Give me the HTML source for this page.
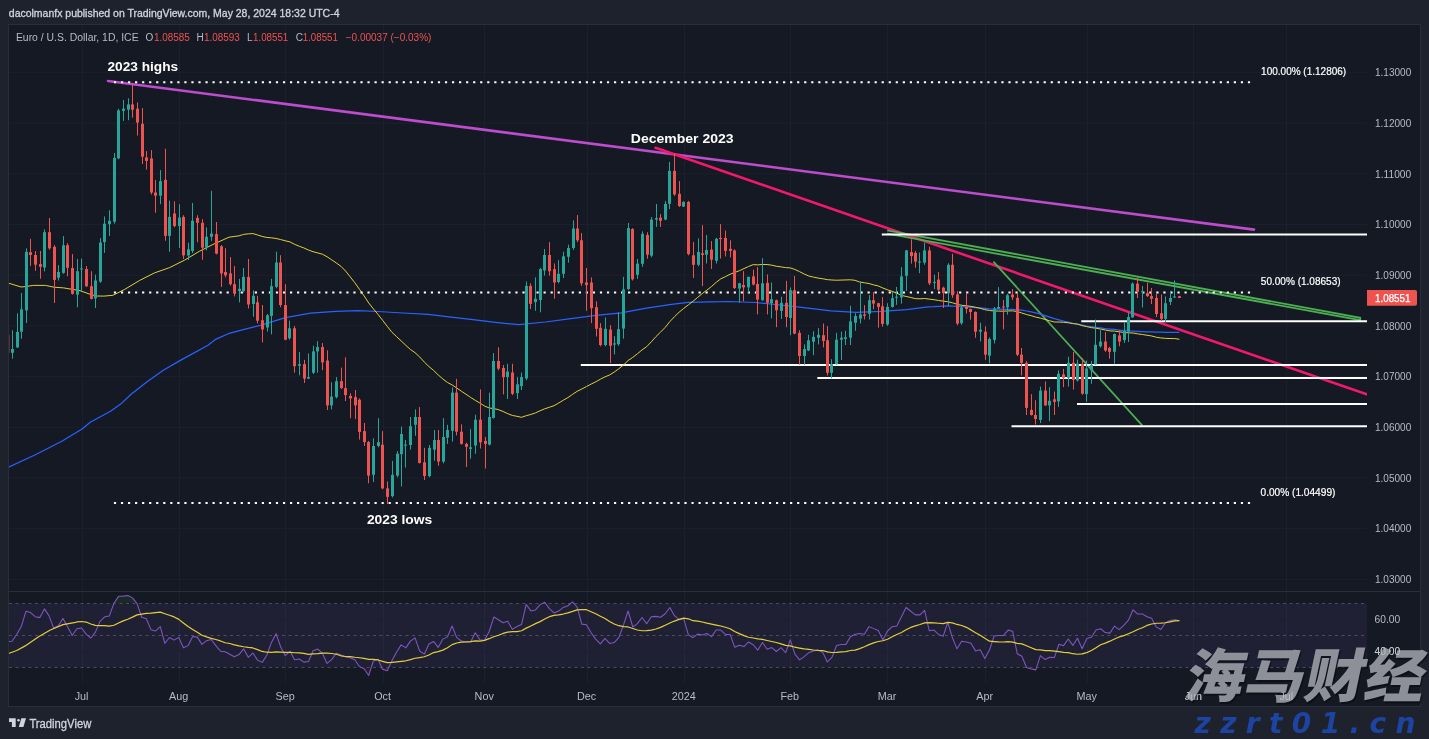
<!DOCTYPE html>
<html><head><meta charset="utf-8"><title>EUR/USD chart</title>
<style>html,body{margin:0;padding:0;background:#1e222d;overflow:hidden;}svg{display:block;}</style>
</head><body>
<svg width="1429" height="739" viewBox="0 0 1429 739"><rect x="0" y="0" width="1429" height="739" fill="#1e222d"/>
<rect x="8.5" y="24.5" width="1412" height="682" fill="#151924" stroke="#2a2e39" stroke-width="1"/>
<defs><clipPath id="cm"><rect x="9" y="25" width="1358" height="566"/></clipPath><clipPath id="cr"><rect x="9" y="592" width="1358" height="90.5"/></clipPath><clipPath id="ob"><rect x="9" y="592" width="1358" height="11"/></clipPath><clipPath id="os"><rect x="9" y="668" width="1358" height="14.5"/></clipPath></defs>
<line x1="9" y1="72.4" x2="1367" y2="72.4" stroke="#1c202c" stroke-width="1"/>
<line x1="9" y1="123.1" x2="1367" y2="123.1" stroke="#1c202c" stroke-width="1"/>
<line x1="9" y1="173.8" x2="1367" y2="173.8" stroke="#1c202c" stroke-width="1"/>
<line x1="9" y1="224.5" x2="1367" y2="224.5" stroke="#1c202c" stroke-width="1"/>
<line x1="9" y1="275.2" x2="1367" y2="275.2" stroke="#1c202c" stroke-width="1"/>
<line x1="9" y1="325.9" x2="1367" y2="325.9" stroke="#1c202c" stroke-width="1"/>
<line x1="9" y1="376.6" x2="1367" y2="376.6" stroke="#1c202c" stroke-width="1"/>
<line x1="9" y1="427.3" x2="1367" y2="427.3" stroke="#1c202c" stroke-width="1"/>
<line x1="9" y1="478" x2="1367" y2="478" stroke="#1c202c" stroke-width="1"/>
<line x1="9" y1="528.7" x2="1367" y2="528.7" stroke="#1c202c" stroke-width="1"/>
<line x1="9" y1="579.4" x2="1367" y2="579.4" stroke="#1c202c" stroke-width="1"/>
<line x1="82.5" y1="25" x2="82.5" y2="591" stroke="#1c202c" stroke-width="1"/>
<line x1="82.5" y1="592" x2="82.5" y2="682.5" stroke="#1c202c" stroke-width="1"/>
<line x1="179.5" y1="25" x2="179.5" y2="591" stroke="#1c202c" stroke-width="1"/>
<line x1="179.5" y1="592" x2="179.5" y2="682.5" stroke="#1c202c" stroke-width="1"/>
<line x1="285.5" y1="25" x2="285.5" y2="591" stroke="#1c202c" stroke-width="1"/>
<line x1="285.5" y1="592" x2="285.5" y2="682.5" stroke="#1c202c" stroke-width="1"/>
<line x1="383.5" y1="25" x2="383.5" y2="591" stroke="#1c202c" stroke-width="1"/>
<line x1="383.5" y1="592" x2="383.5" y2="682.5" stroke="#1c202c" stroke-width="1"/>
<line x1="484.5" y1="25" x2="484.5" y2="591" stroke="#1c202c" stroke-width="1"/>
<line x1="484.5" y1="592" x2="484.5" y2="682.5" stroke="#1c202c" stroke-width="1"/>
<line x1="587.5" y1="25" x2="587.5" y2="591" stroke="#1c202c" stroke-width="1"/>
<line x1="587.5" y1="592" x2="587.5" y2="682.5" stroke="#1c202c" stroke-width="1"/>
<line x1="684.5" y1="25" x2="684.5" y2="591" stroke="#1c202c" stroke-width="1"/>
<line x1="684.5" y1="592" x2="684.5" y2="682.5" stroke="#1c202c" stroke-width="1"/>
<line x1="790.5" y1="25" x2="790.5" y2="591" stroke="#1c202c" stroke-width="1"/>
<line x1="790.5" y1="592" x2="790.5" y2="682.5" stroke="#1c202c" stroke-width="1"/>
<line x1="887.5" y1="25" x2="887.5" y2="591" stroke="#1c202c" stroke-width="1"/>
<line x1="887.5" y1="592" x2="887.5" y2="682.5" stroke="#1c202c" stroke-width="1"/>
<line x1="985.5" y1="25" x2="985.5" y2="591" stroke="#1c202c" stroke-width="1"/>
<line x1="985.5" y1="592" x2="985.5" y2="682.5" stroke="#1c202c" stroke-width="1"/>
<line x1="1087.5" y1="25" x2="1087.5" y2="591" stroke="#1c202c" stroke-width="1"/>
<line x1="1087.5" y1="592" x2="1087.5" y2="682.5" stroke="#1c202c" stroke-width="1"/>
<line x1="1193.5" y1="25" x2="1193.5" y2="591" stroke="#1c202c" stroke-width="1"/>
<line x1="1193.5" y1="592" x2="1193.5" y2="682.5" stroke="#1c202c" stroke-width="1"/>
<line x1="1286.5" y1="25" x2="1286.5" y2="591" stroke="#1c202c" stroke-width="1"/>
<line x1="1286.5" y1="592" x2="1286.5" y2="682.5" stroke="#1c202c" stroke-width="1"/>
<line x1="9" y1="591.5" x2="1420" y2="591.5" stroke="#2a2e39" stroke-width="1"/>
<rect x="9" y="603.4" width="1358" height="64" fill="#7e57c2" fill-opacity="0.115"/>
<line x1="9" y1="619.5" x2="1367" y2="619.5" stroke="#1c202c" stroke-width="1"/>
<line x1="9" y1="651.5" x2="1367" y2="651.5" stroke="#1c202c" stroke-width="1"/>
<line x1="9" y1="603.5" x2="1367" y2="603.5" stroke="#787b86" stroke-opacity="0.5" stroke-width="1" stroke-dasharray="3 3.5"/>
<line x1="9" y1="635.5" x2="1367" y2="635.5" stroke="#787b86" stroke-opacity="0.5" stroke-width="1" stroke-dasharray="3 3.5"/>
<line x1="9" y1="667.5" x2="1367" y2="667.5" stroke="#787b86" stroke-opacity="0.5" stroke-width="1" stroke-dasharray="3 3.5"/>
<polygon clip-path="url(#ob)" fill="#4caf50" fill-opacity="0.12" points="4,603.4 4,642.2 12.01,641.21 16.64,634.53 21.28,626.58 25.91,611.3 30.54,612.58 35.17,616.7 39.81,617.61 44.44,608.88 49.07,615.9 53.7,628.07 58.34,625.76 62.97,618.44 67.6,626.83 72.23,635.44 76.87,628.78 81.5,628.01 86.13,634.08 90.76,638.22 95.39,632.14 100.03,621.37 104.66,616.79 109.29,616.09 113.92,603.33 118.56,596.34 123.19,596.11 127.82,595.5 132.45,597.85 137.09,603.6 141.72,617.25 146.35,618.81 150.99,629.86 155.62,630.91 160.25,626.61 164.88,643.25 169.51,637.52 174.15,640.09 178.78,637.4 183.41,647.7 188.05,645.64 192.68,636.48 197.31,637.11 201.94,644.35 206.58,640.64 211.21,639.53 215.84,645.65 220.47,651.17 225.11,651.69 229.74,654.2 234.37,656.68 239,654.59 243.63,648.84 248.27,657.27 252.9,653.08 257.53,660.11 262.17,662.36 266.8,655.27 271.43,642.43 276.06,633.67 280.7,647.04 285.33,655.63 289.96,651.37 294.59,659.84 299.23,659.06 303.86,662.14 308.49,661.49 313.12,650.78 317.75,649.04 322.39,653.32 327.02,663.41 331.65,659.68 336.29,653.31 340.92,655.09 345.55,656.92 350.18,657.81 354.82,659.74 359.45,666.43 364.08,668.76 368.71,675.46 373.35,661.03 377.98,659.26 382.61,669.18 387.24,670.74 391.88,660.8 396.51,652.22 401.14,644.9 405.77,647.86 410.41,641.14 415.04,637.91 419.67,651 424.3,654.17 428.94,644.04 433.57,641.42 438.2,647.42 442.83,639.11 447.47,636.86 452.1,625.93 456.73,637.69 461.36,640.98 466,641.8 470.63,641.92 475.26,632.81 479.89,639.84 484.53,640.33 489.16,631.47 493.79,617.07 498.42,619.72 503.06,622.77 507.69,621.28 512.32,629.34 516.95,626.55 521.59,624.43 526.22,604.48 530.85,610.92 535.48,609.94 540.12,604.61 544.75,602.27 549.38,608.59 554.01,612.9 558.65,611.05 563.28,607.42 567.91,605.74 572.54,601.95 577.18,607.28 581.81,624.12 586.44,624.76 591.07,632.72 595.71,639.16 600.34,643.87 604.97,638.36 609.6,643.44 614.24,642.56 618.87,637.39 623.5,624.95 628.13,610.98 632.77,627 637.4,623.56 642.03,617.46 646.66,623.68 651.3,616.67 655.93,616.38 660.56,617.28 665.19,613.73 669.83,607.46 674.46,615.71 679.09,619.61 683.72,618.67 688.36,634.84 692.99,637.71 697.62,634.11 702.25,634.97 706.88,633.47 711.52,636.64 716.15,629.96 720.78,630.07 725.42,634.44 730.05,634.44 734.68,647.16 739.31,645.24 743.95,646.6 748.58,641.95 753.21,644.77 757.84,650.07 762.48,642.49 767.11,649.32 771.74,647.61 776.37,651.49 781.01,647.65 785.64,652.76 790.27,639.85 794.9,654.06 799.54,659.86 804.17,656.64 808.8,652.64 813.43,651.04 818.07,650.01 822.7,652.15 827.33,661.98 831.96,657.33 836.6,645.48 841.23,644.56 845.86,644.37 850.49,636.77 855.12,634.3 859.76,633.59 864.39,634.27 869.02,626.62 873.66,628.61 878.29,630.58 882.92,640.1 887.55,630.99 892.19,626.72 896.82,626.03 901.45,616.84 906.08,607.49 910.72,611.25 915.35,614.88 919.98,614.88 924.61,610.37 929.25,630.75 933.88,630.09 938.51,634.37 943.14,636.29 947.78,622.45 952.41,637.79 957.04,648.84 961.67,641.34 966.31,641.97 970.94,643.21 975.57,650.89 980.2,649.79 984.84,658.59 989.47,650.03 994.1,636.08 998.73,635.41 1003.37,635.59 1008,630.13 1012.63,631.19 1017.26,653.83 1021.9,656.25 1026.53,667.51 1031.16,669.01 1035.79,669.87 1040.43,655.63 1045.06,659.53 1049.69,657.31 1054.32,657.6 1058.96,644.26 1063.59,645.66 1068.22,639.02 1072.85,645.36 1077.49,638.31 1082.12,648.72 1086.75,638.61 1091.38,637.32 1096.02,629.91 1100.65,628.78 1105.28,632.54 1109.91,633.11 1114.55,626.05 1119.18,629.64 1123.81,625.43 1128.44,620.2 1133.08,609.78 1137.71,614.1 1142.34,613.91 1146.97,616.7 1151.61,618.29 1156.24,626.9 1160.87,629.54 1165.5,622.63 1170.13,620.47 1174.77,619.83 1179.4,620.84 1179.4,603.4"/>
<polygon clip-path="url(#os)" fill="#f23645" fill-opacity="0.12" points="4,667.4 4,642.2 12.01,641.21 16.64,634.53 21.28,626.58 25.91,611.3 30.54,612.58 35.17,616.7 39.81,617.61 44.44,608.88 49.07,615.9 53.7,628.07 58.34,625.76 62.97,618.44 67.6,626.83 72.23,635.44 76.87,628.78 81.5,628.01 86.13,634.08 90.76,638.22 95.39,632.14 100.03,621.37 104.66,616.79 109.29,616.09 113.92,603.33 118.56,596.34 123.19,596.11 127.82,595.5 132.45,597.85 137.09,603.6 141.72,617.25 146.35,618.81 150.99,629.86 155.62,630.91 160.25,626.61 164.88,643.25 169.51,637.52 174.15,640.09 178.78,637.4 183.41,647.7 188.05,645.64 192.68,636.48 197.31,637.11 201.94,644.35 206.58,640.64 211.21,639.53 215.84,645.65 220.47,651.17 225.11,651.69 229.74,654.2 234.37,656.68 239,654.59 243.63,648.84 248.27,657.27 252.9,653.08 257.53,660.11 262.17,662.36 266.8,655.27 271.43,642.43 276.06,633.67 280.7,647.04 285.33,655.63 289.96,651.37 294.59,659.84 299.23,659.06 303.86,662.14 308.49,661.49 313.12,650.78 317.75,649.04 322.39,653.32 327.02,663.41 331.65,659.68 336.29,653.31 340.92,655.09 345.55,656.92 350.18,657.81 354.82,659.74 359.45,666.43 364.08,668.76 368.71,675.46 373.35,661.03 377.98,659.26 382.61,669.18 387.24,670.74 391.88,660.8 396.51,652.22 401.14,644.9 405.77,647.86 410.41,641.14 415.04,637.91 419.67,651 424.3,654.17 428.94,644.04 433.57,641.42 438.2,647.42 442.83,639.11 447.47,636.86 452.1,625.93 456.73,637.69 461.36,640.98 466,641.8 470.63,641.92 475.26,632.81 479.89,639.84 484.53,640.33 489.16,631.47 493.79,617.07 498.42,619.72 503.06,622.77 507.69,621.28 512.32,629.34 516.95,626.55 521.59,624.43 526.22,604.48 530.85,610.92 535.48,609.94 540.12,604.61 544.75,602.27 549.38,608.59 554.01,612.9 558.65,611.05 563.28,607.42 567.91,605.74 572.54,601.95 577.18,607.28 581.81,624.12 586.44,624.76 591.07,632.72 595.71,639.16 600.34,643.87 604.97,638.36 609.6,643.44 614.24,642.56 618.87,637.39 623.5,624.95 628.13,610.98 632.77,627 637.4,623.56 642.03,617.46 646.66,623.68 651.3,616.67 655.93,616.38 660.56,617.28 665.19,613.73 669.83,607.46 674.46,615.71 679.09,619.61 683.72,618.67 688.36,634.84 692.99,637.71 697.62,634.11 702.25,634.97 706.88,633.47 711.52,636.64 716.15,629.96 720.78,630.07 725.42,634.44 730.05,634.44 734.68,647.16 739.31,645.24 743.95,646.6 748.58,641.95 753.21,644.77 757.84,650.07 762.48,642.49 767.11,649.32 771.74,647.61 776.37,651.49 781.01,647.65 785.64,652.76 790.27,639.85 794.9,654.06 799.54,659.86 804.17,656.64 808.8,652.64 813.43,651.04 818.07,650.01 822.7,652.15 827.33,661.98 831.96,657.33 836.6,645.48 841.23,644.56 845.86,644.37 850.49,636.77 855.12,634.3 859.76,633.59 864.39,634.27 869.02,626.62 873.66,628.61 878.29,630.58 882.92,640.1 887.55,630.99 892.19,626.72 896.82,626.03 901.45,616.84 906.08,607.49 910.72,611.25 915.35,614.88 919.98,614.88 924.61,610.37 929.25,630.75 933.88,630.09 938.51,634.37 943.14,636.29 947.78,622.45 952.41,637.79 957.04,648.84 961.67,641.34 966.31,641.97 970.94,643.21 975.57,650.89 980.2,649.79 984.84,658.59 989.47,650.03 994.1,636.08 998.73,635.41 1003.37,635.59 1008,630.13 1012.63,631.19 1017.26,653.83 1021.9,656.25 1026.53,667.51 1031.16,669.01 1035.79,669.87 1040.43,655.63 1045.06,659.53 1049.69,657.31 1054.32,657.6 1058.96,644.26 1063.59,645.66 1068.22,639.02 1072.85,645.36 1077.49,638.31 1082.12,648.72 1086.75,638.61 1091.38,637.32 1096.02,629.91 1100.65,628.78 1105.28,632.54 1109.91,633.11 1114.55,626.05 1119.18,629.64 1123.81,625.43 1128.44,620.2 1133.08,609.78 1137.71,614.1 1142.34,613.91 1146.97,616.7 1151.61,618.29 1156.24,626.9 1160.87,629.54 1165.5,622.63 1170.13,620.47 1174.77,619.83 1179.4,620.84 1179.4,667.4"/>
<g clip-path="url(#cr)">
<polyline fill="none" stroke="#7e57c2" stroke-width="1.05" stroke-linejoin="round" points="4,642.2 12.01,641.21 16.64,634.53 21.28,626.58 25.91,611.3 30.54,612.58 35.17,616.7 39.81,617.61 44.44,608.88 49.07,615.9 53.7,628.07 58.34,625.76 62.97,618.44 67.6,626.83 72.23,635.44 76.87,628.78 81.5,628.01 86.13,634.08 90.76,638.22 95.39,632.14 100.03,621.37 104.66,616.79 109.29,616.09 113.92,603.33 118.56,596.34 123.19,596.11 127.82,595.5 132.45,597.85 137.09,603.6 141.72,617.25 146.35,618.81 150.99,629.86 155.62,630.91 160.25,626.61 164.88,643.25 169.51,637.52 174.15,640.09 178.78,637.4 183.41,647.7 188.05,645.64 192.68,636.48 197.31,637.11 201.94,644.35 206.58,640.64 211.21,639.53 215.84,645.65 220.47,651.17 225.11,651.69 229.74,654.2 234.37,656.68 239,654.59 243.63,648.84 248.27,657.27 252.9,653.08 257.53,660.11 262.17,662.36 266.8,655.27 271.43,642.43 276.06,633.67 280.7,647.04 285.33,655.63 289.96,651.37 294.59,659.84 299.23,659.06 303.86,662.14 308.49,661.49 313.12,650.78 317.75,649.04 322.39,653.32 327.02,663.41 331.65,659.68 336.29,653.31 340.92,655.09 345.55,656.92 350.18,657.81 354.82,659.74 359.45,666.43 364.08,668.76 368.71,675.46 373.35,661.03 377.98,659.26 382.61,669.18 387.24,670.74 391.88,660.8 396.51,652.22 401.14,644.9 405.77,647.86 410.41,641.14 415.04,637.91 419.67,651 424.3,654.17 428.94,644.04 433.57,641.42 438.2,647.42 442.83,639.11 447.47,636.86 452.1,625.93 456.73,637.69 461.36,640.98 466,641.8 470.63,641.92 475.26,632.81 479.89,639.84 484.53,640.33 489.16,631.47 493.79,617.07 498.42,619.72 503.06,622.77 507.69,621.28 512.32,629.34 516.95,626.55 521.59,624.43 526.22,604.48 530.85,610.92 535.48,609.94 540.12,604.61 544.75,602.27 549.38,608.59 554.01,612.9 558.65,611.05 563.28,607.42 567.91,605.74 572.54,601.95 577.18,607.28 581.81,624.12 586.44,624.76 591.07,632.72 595.71,639.16 600.34,643.87 604.97,638.36 609.6,643.44 614.24,642.56 618.87,637.39 623.5,624.95 628.13,610.98 632.77,627 637.4,623.56 642.03,617.46 646.66,623.68 651.3,616.67 655.93,616.38 660.56,617.28 665.19,613.73 669.83,607.46 674.46,615.71 679.09,619.61 683.72,618.67 688.36,634.84 692.99,637.71 697.62,634.11 702.25,634.97 706.88,633.47 711.52,636.64 716.15,629.96 720.78,630.07 725.42,634.44 730.05,634.44 734.68,647.16 739.31,645.24 743.95,646.6 748.58,641.95 753.21,644.77 757.84,650.07 762.48,642.49 767.11,649.32 771.74,647.61 776.37,651.49 781.01,647.65 785.64,652.76 790.27,639.85 794.9,654.06 799.54,659.86 804.17,656.64 808.8,652.64 813.43,651.04 818.07,650.01 822.7,652.15 827.33,661.98 831.96,657.33 836.6,645.48 841.23,644.56 845.86,644.37 850.49,636.77 855.12,634.3 859.76,633.59 864.39,634.27 869.02,626.62 873.66,628.61 878.29,630.58 882.92,640.1 887.55,630.99 892.19,626.72 896.82,626.03 901.45,616.84 906.08,607.49 910.72,611.25 915.35,614.88 919.98,614.88 924.61,610.37 929.25,630.75 933.88,630.09 938.51,634.37 943.14,636.29 947.78,622.45 952.41,637.79 957.04,648.84 961.67,641.34 966.31,641.97 970.94,643.21 975.57,650.89 980.2,649.79 984.84,658.59 989.47,650.03 994.1,636.08 998.73,635.41 1003.37,635.59 1008,630.13 1012.63,631.19 1017.26,653.83 1021.9,656.25 1026.53,667.51 1031.16,669.01 1035.79,669.87 1040.43,655.63 1045.06,659.53 1049.69,657.31 1054.32,657.6 1058.96,644.26 1063.59,645.66 1068.22,639.02 1072.85,645.36 1077.49,638.31 1082.12,648.72 1086.75,638.61 1091.38,637.32 1096.02,629.91 1100.65,628.78 1105.28,632.54 1109.91,633.11 1114.55,626.05 1119.18,629.64 1123.81,625.43 1128.44,620.2 1133.08,609.78 1137.71,614.1 1142.34,613.91 1146.97,616.7 1151.61,618.29 1156.24,626.9 1160.87,629.54 1165.5,622.63 1170.13,620.47 1174.77,619.83 1179.4,620.84"/>
<polyline fill="none" stroke="#e3cf3a" stroke-width="1.2" stroke-linejoin="round" points="5,654.5 9.2,653.2 16.8,650.5 25.2,645.9 38.6,636.7 50.3,630 63,624.6 75.5,622.4 76.87,621.96 81.5,621.49 86.13,622.03 90.76,623.95 95.39,625.35 100.03,625.68 104.66,625.62 109.29,626.14 113.92,625.24 118.56,622.97 123.19,620.85 127.82,619.22 132.45,617.15 137.09,614.87 141.72,614.05 146.35,613.39 150.99,613.09 155.62,612.57 160.25,612.17 164.88,613.74 169.51,615.22 174.15,616.93 178.78,619.37 183.41,623.03 188.05,626.57 192.68,629.5 197.31,632.3 201.94,635.21 206.58,636.88 211.21,638.36 215.84,639.49 220.47,640.94 225.11,642.73 229.74,643.51 234.37,644.88 239,645.92 243.63,646.73 248.27,647.42 252.9,647.95 257.53,649.63 262.17,651.44 266.8,652.22 271.43,652.35 276.06,651.93 280.7,652.03 285.33,652.35 289.96,652.32 294.59,652.73 299.23,652.9 303.86,653.44 308.49,654.34 313.12,653.88 317.75,653.59 322.39,653.1 327.02,653.18 331.65,653.49 336.29,654.27 340.92,655.8 345.55,656.51 350.18,656.66 354.82,657.26 359.45,657.73 364.08,658.42 368.71,659.38 373.35,659.34 377.98,659.95 382.61,661.39 387.24,662.63 391.88,662.44 396.51,661.91 401.14,661.31 405.77,660.79 410.41,659.67 415.04,658.24 419.67,657.62 424.3,656.74 428.94,654.98 433.57,652.55 438.2,651.57 442.83,650.13 447.47,647.83 452.1,644.63 456.73,642.98 461.36,642.17 466,641.95 470.63,641.53 475.26,640.93 479.89,641.07 484.53,640.31 489.16,638.69 493.79,636.76 498.42,635.21 503.06,633.45 507.69,632.18 512.32,631.64 516.95,631.68 521.59,630.74 526.22,628.13 530.85,625.92 535.48,623.64 540.12,621.62 544.75,618.94 549.38,616.67 554.01,615.35 558.65,614.92 563.28,614.04 567.91,612.82 572.54,611.44 577.18,609.87 581.81,609.69 586.44,609.72 591.07,611.73 595.71,613.75 600.34,616.17 604.97,618.58 609.6,621.53 614.24,623.95 618.87,625.7 623.5,626.69 628.13,626.95 632.77,628.47 637.4,630.01 642.03,630.74 646.66,630.71 651.3,630.13 655.93,628.96 660.56,627.4 665.19,625.25 669.83,623.04 674.46,621.06 679.09,619.42 683.72,618.08 688.36,618.79 692.99,620.7 697.62,621.21 702.25,622.02 706.88,623.16 711.52,624.09 716.15,625.04 720.78,626.02 725.42,627.24 730.05,628.72 734.68,631.56 739.31,633.67 743.95,635.59 748.58,637.26 753.21,637.97 757.84,638.85 762.48,639.45 767.11,640.47 771.74,641.48 776.37,642.54 781.01,643.81 785.64,645.43 790.27,645.81 794.9,647.21 799.54,648.12 804.17,648.94 808.8,649.37 813.43,650.02 818.07,650.39 822.7,650.54 827.33,651.93 831.96,652.5 836.6,652.35 841.23,651.86 845.86,651.62 850.49,650.48 855.12,650.09 859.76,648.62 864.39,646.8 869.02,644.65 873.66,642.93 878.29,641.47 882.92,640.77 887.55,639.25 892.19,636.74 896.82,634.5 901.45,632.45 906.08,629.81 910.72,627.44 915.35,625.88 919.98,624.49 924.61,622.83 929.25,622.58 933.88,622.83 938.51,623.24 943.14,623.65 947.78,622.38 952.41,622.87 957.04,624.45 961.67,625.54 966.31,627.34 970.94,629.89 975.57,632.72 980.2,635.22 984.84,638.34 989.47,641.17 994.1,641.55 998.73,641.93 1003.37,642.02 1008,641.58 1012.63,642.2 1017.26,643.35 1021.9,643.88 1026.53,645.75 1031.16,647.68 1035.79,649.58 1040.43,649.92 1045.06,650.62 1049.69,650.53 1054.32,651.07 1058.96,651.65 1063.59,652.38 1068.22,652.63 1072.85,653.72 1077.49,654.23 1082.12,653.86 1086.75,652.6 1091.38,650.44 1096.02,647.65 1100.65,644.72 1105.28,643.07 1109.91,641.18 1114.55,638.95 1119.18,636.95 1123.81,635.61 1128.44,633.79 1133.08,631.7 1137.71,629.47 1142.34,627.72 1146.97,625.44 1151.61,623.98 1156.24,623.24 1160.87,623.21 1165.5,622.77 1170.13,621.91 1174.77,620.96 1179.4,620.59"/>
</g>
<g clip-path="url(#cm)">
<line x1="108" y1="81" x2="1254" y2="229.6" stroke="#bd4dcd" stroke-width="2.6" stroke-linecap="round"/>
<line x1="655.5" y1="147.8" x2="1370" y2="395.5" stroke="#f2196b" stroke-width="2.6" stroke-linecap="round"/>
<polyline fill="none" stroke="#4caf50" stroke-width="1.8" points="887.1,230.3 1360.2,317.8 1360.2,320.1 887.1,233.7"/>
<line x1="993.4" y1="261.6" x2="1142.2" y2="425.4" stroke="#4caf50" stroke-width="1.8"/>
<line x1="881.8" y1="234.5" x2="1367" y2="234.5" stroke="#ffffff" stroke-width="2"/>
<line x1="1081.3" y1="321.3" x2="1367" y2="321.3" stroke="#ffffff" stroke-width="2"/>
<line x1="580.8" y1="365.0" x2="1367" y2="365.0" stroke="#ffffff" stroke-width="2"/>
<line x1="817.3" y1="378.1" x2="1367" y2="378.1" stroke="#ffffff" stroke-width="2"/>
<line x1="1077" y1="403.9" x2="1367" y2="403.9" stroke="#ffffff" stroke-width="2"/>
<line x1="1011.5" y1="426.2" x2="1367" y2="426.2" stroke="#ffffff" stroke-width="2"/>
<polyline fill="none" stroke="#2962ff" stroke-width="1.25" stroke-linejoin="round" points="5,468.8 9.1,467 35.4,454.8 61.8,441.2 82.1,429 90.2,422.3 110.5,411.2 120.7,404.1 130.8,394.5 147.1,381.8 163.3,370.2 179.5,360.9 187.7,356.4 208,345.2 216.1,339.1 228.3,333.7 240.4,330.4 260.2,325.3 285.4,317.7 310.6,313.2 335.8,311.3 357.6,310.7 377.8,311.5 403,313 428.1,314.4 453.3,317.4 475,319.9 495.2,322.3 518.7,324.7 545.6,322 570.8,318.6 596,315.3 621.2,312.8 646.4,308.2 671.5,304.4 688.3,302.3 710,301.8 730.2,301.5 755.4,302.5 780.6,305 805.8,307.9 831,310.8 856.2,312.4 881.4,311.3 906.5,309.6 928,306.8 933.88,306.63 938.51,306.33 943.14,306.14 947.78,305.91 952.41,306.13 957.04,306.47 961.67,306.69 966.31,306.9 970.94,307.3 975.57,307.71 980.2,307.96 984.84,308.38 989.47,308.85 994.1,309.05 998.73,309.12 1003.37,309.3 1008,309.43 1012.63,309.49 1017.26,309.76 1021.9,310.18 1026.53,311 1031.16,311.96 1035.79,312.95 1040.43,314.11 1045.06,315.59 1049.69,317.05 1054.32,318.54 1058.96,319.86 1063.59,321.13 1068.22,322.16 1072.85,323.26 1077.49,324.11 1082.12,325.1 1086.75,326.04 1091.38,326.69 1096.02,327.33 1100.65,327.9 1105.28,328.57 1109.91,329.05 1114.55,329.47 1119.18,330.08 1123.81,330.62 1128.44,330.97 1133.08,331.2 1137.71,331.49 1142.34,331.68 1146.97,331.79 1151.61,331.91 1156.24,332.06 1160.87,332.19 1165.5,332.26 1170.13,332.37 1174.77,332.33 1179.4,332.34"/>
<polyline fill="none" stroke="#e3cf3a" stroke-width="1.0" stroke-linejoin="round" points="5,282.5 9,283.3 21.2,287 27.3,286.3 33.4,285.4 45.5,285.4 54,287.2 63.8,287.9 72.3,289.4 79,290.3 91.2,294.7 97.2,296 103.9,296.1 112.9,295.3 124.8,289.3 139.7,280.4 154.5,272.9 169.4,267.7 184.3,260.3 199.2,251.4 214.1,243.9 229,237.2 239,235.84 243.63,234.4 248.27,233.85 252.9,233.58 257.53,234.96 262.17,236.44 266.8,237.46 271.43,237.84 276.06,238.45 280.7,239.58 285.33,240.78 289.96,241.9 294.59,244.32 299.23,246.25 303.86,247.95 308.49,250.06 313.12,251.72 317.75,252.94 322.39,254.21 327.02,256.71 331.65,259.79 336.29,262.94 340.92,266.28 345.55,271.03 350.18,276.79 354.82,282.72 359.45,289.27 364.08,295.92 368.71,302.98 373.35,308.77 377.98,314.39 382.61,320.31 387.24,326.33 391.88,332.21 396.51,336.56 401.14,340.9 405.77,345.27 410.41,349.45 415.04,352.68 419.67,356.95 424.3,362.06 428.94,366.56 433.57,370.41 438.2,374.9 442.83,378.97 447.47,382.5 452.1,384.88 456.73,388.01 461.36,391.2 466,394.28 470.63,397.45 475.26,400.31 479.89,403.06 484.53,406.02 489.16,407.95 493.79,408.58 498.42,409.65 503.06,411.47 507.69,413.65 512.32,415.43 516.95,416.32 521.59,417.29 526.22,415.69 530.85,414.48 535.48,412.88 540.12,410.72 544.75,408.8 549.38,407.28 554.01,405.68 558.65,403.05 563.28,400.24 567.91,397.58 572.54,394.39 577.18,391.29 581.81,388.99 586.44,386.58 591.07,384.11 595.71,381.84 600.34,379.23 604.97,376.89 609.6,374.96 614.24,372.06 618.87,368.71 623.5,365 628.13,360.49 632.77,357.39 637.4,353.77 642.03,349.93 646.66,346.68 651.3,341.81 655.93,336.65 660.56,332.11 665.19,327.39 669.83,321.58 674.46,316.72 679.09,312.24 683.72,308.43 688.36,304.88 692.99,301.3 697.62,297.4 702.25,293.55 706.88,290.16 711.52,286.5 716.15,282.4 720.78,278.84 725.42,276.64 730.05,274.29 734.68,272.5 739.31,270.74 743.95,268.61 748.58,266.46 753.21,264.61 757.84,264.88 762.48,264.47 767.11,264.55 771.74,265.16 776.37,266.26 781.01,266.89 785.64,267.58 790.27,267.91 794.9,269.46 799.54,271.62 804.17,274.03 808.8,276.03 813.43,277.1 818.07,278.09 822.7,278.75 827.33,279.63 831.96,280.01 836.6,280.23 841.23,280.07 845.86,279.94 850.49,279.79 855.12,280.32 859.76,282.05 864.39,282.78 869.02,283.51 873.66,284.91 878.29,285.95 882.92,288.04 887.55,289.81 892.19,291.36 896.82,293.21 901.45,295.32 906.08,296.44 910.72,297.45 915.35,298.64 919.98,298.79 924.61,298.5 929.25,299.13 933.88,299.67 938.51,300.46 943.14,301.13 947.78,301.65 952.41,302.77 957.04,304.23 961.67,305.36 966.31,305.78 970.94,306.35 975.57,307.24 980.2,308.3 984.84,309.7 989.47,310.49 994.1,310.99 998.73,311.08 1003.37,311.24 1008,310.94 1012.63,310.83 1017.26,311.58 1021.9,313.04 1026.53,314.52 1031.16,315.7 1035.79,317.1 1040.43,318.11 1045.06,319.48 1049.69,320.8 1054.32,322.02 1058.96,322.04 1063.59,322.31 1068.22,322.77 1072.85,323.62 1077.49,324.14 1082.12,325.59 1086.75,326.64 1091.38,327.65 1096.02,328.23 1100.65,329.06 1105.28,330 1109.91,330.89 1114.55,331.1 1119.18,331.79 1123.81,332.45 1128.44,332.85 1133.08,333 1137.71,333.83 1142.34,334.53 1146.97,335.22 1151.61,335.96 1156.24,337.23 1160.87,337.95 1165.5,338.37 1170.13,338.54 1174.77,338.6 1179.4,339.27"/>
<line x1="113.9" y1="82.25" x2="1250.3" y2="82.25" stroke="#ffffff" stroke-width="2.2" stroke-dasharray="2.2 4.8434"/>
<line x1="113.9" y1="292.5" x2="1250.3" y2="292.5" stroke="#ffffff" stroke-width="2.2" stroke-dasharray="2.2 4.8434"/>
<line x1="113.9" y1="503.0" x2="1250.3" y2="503.0" stroke="#ffffff" stroke-width="2.2" stroke-dasharray="2.2 4.8434"/>
<rect x="9" y="335" width="1" height="17.8" fill="#ef5350" fill-opacity="0.35"/>
<rect x="7" y="335" width="1" height="17.8" fill="#ef5350"/>
<rect x="6" y="335" width="3" height="17.8" fill="#ef5350"/>
<rect x="12" y="330.3" width="1" height="28.4" fill="#26a69a"/>
<rect x="11" y="349" width="3" height="3.8" fill="#26a69a"/>
<rect x="17" y="313.3" width="1" height="34.6" fill="#26a69a"/>
<rect x="16" y="332" width="3" height="15.4" fill="#26a69a"/>
<rect x="21" y="293" width="1" height="45.7" fill="#26a69a"/>
<rect x="20" y="309.3" width="3" height="22.4" fill="#26a69a"/>
<rect x="26" y="248.3" width="1" height="74.7" fill="#26a69a"/>
<rect x="25" y="251.9" width="3" height="58.5" fill="#26a69a"/>
<rect x="30" y="238.8" width="1" height="27.1" fill="#ef5350"/>
<rect x="29" y="252.2" width="3" height="2.8" fill="#ef5350"/>
<rect x="35" y="251" width="1" height="19.8" fill="#ef5350"/>
<rect x="34" y="255" width="3" height="9.7" fill="#ef5350"/>
<rect x="40" y="251" width="1" height="27.7" fill="#ef5350"/>
<rect x="39" y="264.1" width="3" height="2.7" fill="#ef5350"/>
<rect x="44" y="229.4" width="1" height="42" fill="#26a69a"/>
<rect x="43" y="232.2" width="3" height="35.3" fill="#26a69a"/>
<rect x="49" y="218" width="1" height="31.7" fill="#ef5350"/>
<rect x="48" y="232.2" width="3" height="16.1" fill="#ef5350"/>
<rect x="54" y="245.2" width="1" height="57.8" fill="#ef5350"/>
<rect x="53" y="246.8" width="3" height="33.1" fill="#ef5350"/>
<rect x="58" y="265.1" width="1" height="15.4" fill="#26a69a"/>
<rect x="57" y="272" width="3" height="5.7" fill="#26a69a"/>
<rect x="63" y="236.1" width="1" height="37.7" fill="#26a69a"/>
<rect x="62" y="245.2" width="3" height="27.7" fill="#26a69a"/>
<rect x="67" y="243.2" width="1" height="33.1" fill="#ef5350"/>
<rect x="66" y="245.2" width="3" height="22.6" fill="#ef5350"/>
<rect x="72" y="254.1" width="1" height="40.5" fill="#ef5350"/>
<rect x="71" y="268" width="3" height="25.9" fill="#ef5350"/>
<rect x="77" y="259" width="1" height="48.3" fill="#26a69a"/>
<rect x="76" y="271.2" width="3" height="23.4" fill="#26a69a"/>
<rect x="81" y="258.6" width="1" height="32.2" fill="#26a69a"/>
<rect x="80" y="268.45" width="3" height="1" fill="#26a69a"/>
<rect x="86" y="266" width="1" height="21" fill="#ef5350"/>
<rect x="85" y="269" width="3" height="17.2" fill="#ef5350"/>
<rect x="91" y="271.3" width="1" height="28" fill="#ef5350"/>
<rect x="90" y="286.2" width="3" height="12.7" fill="#ef5350"/>
<rect x="95" y="274.7" width="1" height="33.3" fill="#26a69a"/>
<rect x="94" y="280.5" width="3" height="17.9" fill="#26a69a"/>
<rect x="100" y="238" width="1" height="44.8" fill="#26a69a"/>
<rect x="99" y="242.5" width="3" height="39.1" fill="#26a69a"/>
<rect x="104" y="216.4" width="1" height="36.5" fill="#26a69a"/>
<rect x="103" y="223.7" width="3" height="18.3" fill="#26a69a"/>
<rect x="109" y="210.3" width="1" height="25.6" fill="#26a69a"/>
<rect x="108" y="220.8" width="3" height="3.4" fill="#26a69a"/>
<rect x="114" y="153" width="1" height="70.7" fill="#26a69a"/>
<rect x="113" y="157.9" width="3" height="63.8" fill="#26a69a"/>
<rect x="118" y="108.7" width="1" height="50.5" fill="#26a69a"/>
<rect x="117" y="110.4" width="3" height="48" fill="#26a69a"/>
<rect x="123" y="100" width="1" height="20.9" fill="#26a69a"/>
<rect x="122" y="108.7" width="3" height="2.2" fill="#26a69a"/>
<rect x="128" y="98.3" width="1" height="21.9" fill="#26a69a"/>
<rect x="127" y="104.4" width="3" height="5.3" fill="#26a69a"/>
<rect x="132" y="84.9" width="1" height="32.8" fill="#ef5350"/>
<rect x="131" y="104.4" width="3" height="5.3" fill="#ef5350"/>
<rect x="137" y="102.4" width="1" height="33.1" fill="#ef5350"/>
<rect x="136" y="108.7" width="3" height="13.9" fill="#ef5350"/>
<rect x="142" y="108" width="1" height="56" fill="#ef5350"/>
<rect x="141" y="123.8" width="3" height="32.9" fill="#ef5350"/>
<rect x="146" y="151.1" width="1" height="18.5" fill="#ef5350"/>
<rect x="145" y="157.4" width="3" height="3.5" fill="#ef5350"/>
<rect x="151" y="150.1" width="1" height="44.4" fill="#ef5350"/>
<rect x="150" y="158.4" width="3" height="34.1" fill="#ef5350"/>
<rect x="155" y="179.9" width="1" height="32.8" fill="#ef5350"/>
<rect x="154" y="192.5" width="3" height="3.2" fill="#ef5350"/>
<rect x="160" y="170.1" width="1" height="34.1" fill="#26a69a"/>
<rect x="159" y="181.1" width="3" height="14.6" fill="#26a69a"/>
<rect x="165" y="148.7" width="1" height="92" fill="#ef5350"/>
<rect x="164" y="179.9" width="3" height="56" fill="#ef5350"/>
<rect x="169" y="200.6" width="1" height="51.1" fill="#26a69a"/>
<rect x="168" y="216.9" width="3" height="19" fill="#26a69a"/>
<rect x="174" y="201.3" width="1" height="26" fill="#ef5350"/>
<rect x="173" y="213.5" width="3" height="12.6" fill="#ef5350"/>
<rect x="179" y="204.2" width="1" height="43.8" fill="#26a69a"/>
<rect x="178" y="217.6" width="3" height="8.5" fill="#26a69a"/>
<rect x="183" y="215.2" width="1" height="43.8" fill="#ef5350"/>
<rect x="182" y="216.9" width="3" height="38.5" fill="#ef5350"/>
<rect x="188" y="242.7" width="1" height="17.3" fill="#26a69a"/>
<rect x="187" y="249.3" width="3" height="6.1" fill="#26a69a"/>
<rect x="192" y="203" width="1" height="50" fill="#26a69a"/>
<rect x="191" y="220.7" width="3" height="30.3" fill="#26a69a"/>
<rect x="197" y="215.2" width="1" height="27" fill="#ef5350"/>
<rect x="196" y="217.9" width="3" height="4.9" fill="#ef5350"/>
<rect x="202" y="219.2" width="1" height="40.6" fill="#ef5350"/>
<rect x="201" y="222.8" width="3" height="24.9" fill="#ef5350"/>
<rect x="206" y="227.4" width="1" height="23" fill="#26a69a"/>
<rect x="205" y="236.8" width="3" height="10.9" fill="#26a69a"/>
<rect x="211" y="190.8" width="1" height="50.1" fill="#26a69a"/>
<rect x="210" y="233.6" width="3" height="3.2" fill="#26a69a"/>
<rect x="216" y="222" width="1" height="32.4" fill="#ef5350"/>
<rect x="215" y="234.1" width="3" height="19.5" fill="#ef5350"/>
<rect x="221" y="245" width="1" height="41.9" fill="#ef5350"/>
<rect x="220" y="246.3" width="3" height="27.1" fill="#ef5350"/>
<rect x="225" y="248.2" width="1" height="29.2" fill="#ef5350"/>
<rect x="224" y="272" width="3" height="3.3" fill="#ef5350"/>
<rect x="230" y="257.1" width="1" height="28.4" fill="#ef5350"/>
<rect x="229" y="273.4" width="3" height="10.8" fill="#ef5350"/>
<rect x="234" y="266.1" width="1" height="30.3" fill="#ef5350"/>
<rect x="233" y="284.2" width="3" height="8.9" fill="#ef5350"/>
<rect x="239" y="278.8" width="1" height="23.5" fill="#26a69a"/>
<rect x="238" y="288.8" width="3" height="2.2" fill="#26a69a"/>
<rect x="243" y="268" width="1" height="24.3" fill="#26a69a"/>
<rect x="242" y="276.9" width="3" height="14.1" fill="#26a69a"/>
<rect x="248" y="259" width="1" height="49.5" fill="#ef5350"/>
<rect x="247" y="276.9" width="3" height="27.6" fill="#ef5350"/>
<rect x="253" y="290.4" width="1" height="26.3" fill="#26a69a"/>
<rect x="252" y="295.8" width="3" height="8.2" fill="#26a69a"/>
<rect x="257" y="295.8" width="1" height="27.6" fill="#ef5350"/>
<rect x="256" y="302.3" width="3" height="18.4" fill="#ef5350"/>
<rect x="262" y="305" width="1" height="37.4" fill="#ef5350"/>
<rect x="261" y="320.2" width="3" height="9.2" fill="#ef5350"/>
<rect x="267" y="314" width="1" height="17.6" fill="#26a69a"/>
<rect x="266" y="315.3" width="3" height="12.2" fill="#26a69a"/>
<rect x="271" y="278.8" width="1" height="55.5" fill="#26a69a"/>
<rect x="270" y="286.1" width="3" height="29.8" fill="#26a69a"/>
<rect x="276" y="251.7" width="1" height="36.6" fill="#26a69a"/>
<rect x="275" y="262.5" width="3" height="24.4" fill="#26a69a"/>
<rect x="280" y="255.2" width="1" height="52" fill="#ef5350"/>
<rect x="279" y="262.5" width="3" height="42.5" fill="#ef5350"/>
<rect x="285" y="284.2" width="1" height="56" fill="#ef5350"/>
<rect x="284" y="305" width="3" height="34.7" fill="#ef5350"/>
<rect x="289" y="320.7" width="1" height="19" fill="#26a69a"/>
<rect x="288" y="328.3" width="3" height="10" fill="#26a69a"/>
<rect x="294" y="326.1" width="1" height="46.6" fill="#ef5350"/>
<rect x="293" y="328.3" width="3" height="37.9" fill="#ef5350"/>
<rect x="299" y="352.1" width="1" height="23.2" fill="#26a69a"/>
<rect x="298" y="364.2" width="3" height="1.6" fill="#26a69a"/>
<rect x="304" y="359.9" width="1" height="23.1" fill="#ef5350"/>
<rect x="303" y="364.2" width="3" height="14.4" fill="#ef5350"/>
<rect x="308" y="353.4" width="1" height="25.7" fill="#26a69a"/>
<rect x="307" y="377.1" width="3" height="1.5" fill="#26a69a"/>
<rect x="313" y="345.7" width="1" height="28.3" fill="#26a69a"/>
<rect x="312" y="351.4" width="3" height="21.3" fill="#26a69a"/>
<rect x="317" y="341.1" width="1" height="31.6" fill="#26a69a"/>
<rect x="316" y="347" width="3" height="4.4" fill="#26a69a"/>
<rect x="322" y="343.1" width="1" height="27" fill="#ef5350"/>
<rect x="321" y="347" width="3" height="15.4" fill="#ef5350"/>
<rect x="327" y="350.3" width="1" height="59.7" fill="#ef5350"/>
<rect x="326" y="360.6" width="3" height="44.8" fill="#ef5350"/>
<rect x="331" y="382.2" width="1" height="27.3" fill="#26a69a"/>
<rect x="330" y="396.6" width="3" height="8.8" fill="#26a69a"/>
<rect x="336" y="377.1" width="1" height="21.3" fill="#26a69a"/>
<rect x="335" y="381.2" width="3" height="15.9" fill="#26a69a"/>
<rect x="341" y="367.6" width="1" height="21.3" fill="#ef5350"/>
<rect x="340" y="381.2" width="3" height="6.9" fill="#ef5350"/>
<rect x="345" y="357.3" width="1" height="43.7" fill="#ef5350"/>
<rect x="344" y="388.1" width="3" height="7" fill="#ef5350"/>
<rect x="350" y="393.3" width="1" height="24.9" fill="#ef5350"/>
<rect x="349" y="395.9" width="3" height="2.5" fill="#ef5350"/>
<rect x="355" y="390" width="1" height="29" fill="#ef5350"/>
<rect x="354" y="397.1" width="3" height="8.3" fill="#ef5350"/>
<rect x="359" y="398.4" width="1" height="41.2" fill="#ef5350"/>
<rect x="358" y="399.7" width="3" height="32.2" fill="#ef5350"/>
<rect x="364" y="422.9" width="1" height="23.1" fill="#ef5350"/>
<rect x="363" y="431.1" width="3" height="11" fill="#ef5350"/>
<rect x="368" y="440.9" width="1" height="42.4" fill="#ef5350"/>
<rect x="367" y="442.1" width="3" height="33.5" fill="#ef5350"/>
<rect x="373" y="438.3" width="1" height="43.7" fill="#26a69a"/>
<rect x="372" y="446" width="3" height="28.8" fill="#26a69a"/>
<rect x="378" y="418.2" width="1" height="29.1" fill="#26a69a"/>
<rect x="377" y="442.1" width="3" height="3.9" fill="#26a69a"/>
<rect x="382" y="431.1" width="1" height="58.1" fill="#ef5350"/>
<rect x="381" y="444.7" width="3" height="43.7" fill="#ef5350"/>
<rect x="387" y="481.5" width="1" height="22.5" fill="#ef5350"/>
<rect x="386" y="488.4" width="3" height="8.5" fill="#ef5350"/>
<rect x="392" y="460.9" width="1" height="36.5" fill="#26a69a"/>
<rect x="391" y="474.8" width="3" height="21.3" fill="#26a69a"/>
<rect x="397" y="451.1" width="1" height="26.3" fill="#26a69a"/>
<rect x="396" y="453.7" width="3" height="21.9" fill="#26a69a"/>
<rect x="401" y="426.6" width="1" height="59.8" fill="#26a69a"/>
<rect x="400" y="434" width="3" height="20.2" fill="#26a69a"/>
<rect x="405" y="440" width="1" height="27.6" fill="#26a69a"/>
<rect x="404" y="444.6" width="3" height="1.1" fill="#26a69a"/>
<rect x="410" y="417" width="1" height="32.6" fill="#26a69a"/>
<rect x="409" y="426.2" width="3" height="18.8" fill="#26a69a"/>
<rect x="415" y="409.4" width="1" height="26.4" fill="#26a69a"/>
<rect x="414" y="417" width="3" height="7.8" fill="#26a69a"/>
<rect x="419" y="407.1" width="1" height="56.3" fill="#ef5350"/>
<rect x="418" y="417" width="3" height="46" fill="#ef5350"/>
<rect x="424" y="447.8" width="1" height="32.2" fill="#ef5350"/>
<rect x="423" y="462.3" width="3" height="13.8" fill="#ef5350"/>
<rect x="429" y="445" width="1" height="32.2" fill="#26a69a"/>
<rect x="428" y="447.8" width="3" height="28.3" fill="#26a69a"/>
<rect x="434" y="430" width="1" height="30.7" fill="#26a69a"/>
<rect x="433" y="440" width="3" height="9.6" fill="#26a69a"/>
<rect x="438" y="430" width="1" height="35.7" fill="#ef5350"/>
<rect x="437" y="440" width="3" height="21.6" fill="#ef5350"/>
<rect x="443" y="418.1" width="1" height="45.3" fill="#26a69a"/>
<rect x="442" y="437" width="3" height="24.6" fill="#26a69a"/>
<rect x="447" y="424.8" width="1" height="19.1" fill="#26a69a"/>
<rect x="446" y="430" width="3" height="7.7" fill="#26a69a"/>
<rect x="452" y="387.5" width="1" height="54.1" fill="#26a69a"/>
<rect x="451" y="392.6" width="3" height="38.2" fill="#26a69a"/>
<rect x="456" y="378.8" width="1" height="56.6" fill="#ef5350"/>
<rect x="455" y="392.6" width="3" height="39.1" fill="#ef5350"/>
<rect x="461" y="424.3" width="1" height="20.3" fill="#ef5350"/>
<rect x="460" y="431.7" width="3" height="12.2" fill="#ef5350"/>
<rect x="466" y="442.7" width="1" height="24.2" fill="#ef5350"/>
<rect x="465" y="443.9" width="3" height="3" fill="#ef5350"/>
<rect x="470" y="428.9" width="1" height="29.9" fill="#26a69a"/>
<rect x="469" y="447.3" width="3" height="1.6" fill="#26a69a"/>
<rect x="475" y="414.7" width="1" height="39.1" fill="#26a69a"/>
<rect x="474" y="419.7" width="3" height="25.8" fill="#26a69a"/>
<rect x="480" y="389.4" width="1" height="59.1" fill="#ef5350"/>
<rect x="479" y="419.7" width="3" height="22.6" fill="#ef5350"/>
<rect x="485" y="437" width="1" height="31.5" fill="#ef5350"/>
<rect x="484" y="440.9" width="3" height="3" fill="#ef5350"/>
<rect x="489" y="392.6" width="1" height="52.9" fill="#26a69a"/>
<rect x="488" y="417" width="3" height="27.6" fill="#26a69a"/>
<rect x="493" y="353" width="1" height="65.6" fill="#26a69a"/>
<rect x="492" y="361" width="3" height="56.9" fill="#26a69a"/>
<rect x="498" y="347.3" width="1" height="23" fill="#ef5350"/>
<rect x="497" y="361" width="3" height="7.6" fill="#ef5350"/>
<rect x="503" y="365" width="1" height="29.4" fill="#ef5350"/>
<rect x="502" y="368" width="3" height="9.2" fill="#ef5350"/>
<rect x="507" y="363.8" width="1" height="35.2" fill="#26a69a"/>
<rect x="506" y="371.5" width="3" height="5.6" fill="#26a69a"/>
<rect x="512" y="363.8" width="1" height="31.3" fill="#ef5350"/>
<rect x="511" y="372.5" width="3" height="21.3" fill="#ef5350"/>
<rect x="517" y="377.1" width="1" height="21.9" fill="#26a69a"/>
<rect x="516" y="384.3" width="3" height="8.8" fill="#26a69a"/>
<rect x="521" y="372.5" width="1" height="17.5" fill="#26a69a"/>
<rect x="520" y="377.1" width="3" height="9" fill="#26a69a"/>
<rect x="526" y="281.5" width="1" height="98.7" fill="#26a69a"/>
<rect x="525" y="285.9" width="3" height="92.5" fill="#26a69a"/>
<rect x="530" y="283.3" width="1" height="25.7" fill="#ef5350"/>
<rect x="529" y="285.9" width="3" height="18" fill="#ef5350"/>
<rect x="535" y="277.4" width="1" height="33.4" fill="#26a69a"/>
<rect x="534" y="298.7" width="3" height="3.3" fill="#26a69a"/>
<rect x="540" y="267.9" width="1" height="44.4" fill="#26a69a"/>
<rect x="539" y="269.1" width="3" height="30.9" fill="#26a69a"/>
<rect x="544" y="249.1" width="1" height="26.5" fill="#26a69a"/>
<rect x="543" y="255" width="3" height="15.4" fill="#26a69a"/>
<rect x="549" y="242.1" width="1" height="33.5" fill="#ef5350"/>
<rect x="548" y="255" width="3" height="16.2" fill="#ef5350"/>
<rect x="554" y="263.5" width="1" height="35.2" fill="#ef5350"/>
<rect x="553" y="269.1" width="3" height="13.4" fill="#ef5350"/>
<rect x="558" y="260.1" width="1" height="23.2" fill="#26a69a"/>
<rect x="557" y="273.8" width="3" height="8.2" fill="#26a69a"/>
<rect x="563" y="251.7" width="1" height="26.4" fill="#26a69a"/>
<rect x="562" y="256.3" width="3" height="17.5" fill="#26a69a"/>
<rect x="568" y="244.7" width="1" height="18" fill="#26a69a"/>
<rect x="567" y="248" width="3" height="8.8" fill="#26a69a"/>
<rect x="573" y="220.3" width="1" height="29.6" fill="#26a69a"/>
<rect x="572" y="228.5" width="3" height="19.5" fill="#26a69a"/>
<rect x="577" y="215.1" width="1" height="27" fill="#ef5350"/>
<rect x="576" y="228.5" width="3" height="11.8" fill="#ef5350"/>
<rect x="581" y="233.1" width="1" height="52.8" fill="#ef5350"/>
<rect x="580" y="240.3" width="3" height="43" fill="#ef5350"/>
<rect x="586" y="267.9" width="1" height="42.9" fill="#ef5350"/>
<rect x="585" y="282.5" width="3" height="2.6" fill="#ef5350"/>
<rect x="591" y="277.4" width="1" height="45.7" fill="#ef5350"/>
<rect x="590" y="282.5" width="3" height="25.7" fill="#ef5350"/>
<rect x="596" y="301.3" width="1" height="35.2" fill="#ef5350"/>
<rect x="595" y="307.2" width="3" height="21.6" fill="#ef5350"/>
<rect x="600" y="323.1" width="1" height="23.2" fill="#ef5350"/>
<rect x="599" y="327.8" width="3" height="17.2" fill="#ef5350"/>
<rect x="605" y="317.5" width="1" height="28.8" fill="#26a69a"/>
<rect x="604" y="328.8" width="3" height="16.2" fill="#26a69a"/>
<rect x="610" y="325.1" width="1" height="38" fill="#ef5350"/>
<rect x="609" y="329.6" width="3" height="16.2" fill="#ef5350"/>
<rect x="614" y="336.1" width="1" height="18.3" fill="#26a69a"/>
<rect x="613" y="343.4" width="3" height="1.2" fill="#26a69a"/>
<rect x="618" y="312.3" width="1" height="33.5" fill="#26a69a"/>
<rect x="617" y="329.2" width="3" height="15" fill="#26a69a"/>
<rect x="623" y="276.8" width="1" height="61.9" fill="#26a69a"/>
<rect x="622" y="289.4" width="3" height="39.2" fill="#26a69a"/>
<rect x="628" y="223" width="1" height="67" fill="#26a69a"/>
<rect x="627" y="228.1" width="3" height="60.9" fill="#26a69a"/>
<rect x="632" y="228.1" width="1" height="52.4" fill="#ef5350"/>
<rect x="631" y="229.1" width="3" height="50.2" fill="#ef5350"/>
<rect x="637" y="259" width="1" height="19.9" fill="#26a69a"/>
<rect x="636" y="263.6" width="3" height="11.2" fill="#26a69a"/>
<rect x="642" y="231.3" width="1" height="35.6" fill="#26a69a"/>
<rect x="641" y="233.8" width="3" height="30" fill="#26a69a"/>
<rect x="647" y="232.3" width="1" height="26.4" fill="#ef5350"/>
<rect x="646" y="235" width="3" height="19.7" fill="#ef5350"/>
<rect x="651" y="217.1" width="1" height="40.2" fill="#26a69a"/>
<rect x="650" y="219.6" width="3" height="36.1" fill="#26a69a"/>
<rect x="656" y="203.9" width="1" height="23" fill="#26a69a"/>
<rect x="655" y="218.1" width="3" height="1.5" fill="#26a69a"/>
<rect x="660" y="214.1" width="1" height="12.8" fill="#ef5350"/>
<rect x="659" y="217.7" width="3" height="3.1" fill="#ef5350"/>
<rect x="665" y="200.9" width="1" height="19.3" fill="#26a69a"/>
<rect x="664" y="203.9" width="3" height="15.7" fill="#26a69a"/>
<rect x="669" y="161.9" width="1" height="47.1" fill="#26a69a"/>
<rect x="668" y="170.9" width="3" height="33" fill="#26a69a"/>
<rect x="674" y="153.2" width="1" height="42.6" fill="#ef5350"/>
<rect x="673" y="170.9" width="3" height="23.5" fill="#ef5350"/>
<rect x="679" y="181" width="1" height="26" fill="#ef5350"/>
<rect x="678" y="193.8" width="3" height="12.2" fill="#ef5350"/>
<rect x="683" y="201.3" width="1" height="5.7" fill="#26a69a"/>
<rect x="682" y="201.9" width="3" height="4.7" fill="#26a69a"/>
<rect x="688" y="200.9" width="1" height="54.4" fill="#ef5350"/>
<rect x="687" y="201.9" width="3" height="52.2" fill="#ef5350"/>
<rect x="693" y="241.9" width="1" height="36.1" fill="#ef5350"/>
<rect x="692" y="255.3" width="3" height="9.5" fill="#ef5350"/>
<rect x="698" y="238.4" width="1" height="27.8" fill="#26a69a"/>
<rect x="697" y="252" width="3" height="12.8" fill="#26a69a"/>
<rect x="702" y="225.2" width="1" height="60.9" fill="#ef5350"/>
<rect x="701" y="253.3" width="3" height="1.6" fill="#ef5350"/>
<rect x="706" y="235" width="1" height="28.4" fill="#26a69a"/>
<rect x="705" y="250" width="3" height="4.7" fill="#26a69a"/>
<rect x="711" y="241.1" width="1" height="27.8" fill="#ef5350"/>
<rect x="710" y="249.6" width="3" height="10.1" fill="#ef5350"/>
<rect x="716" y="237.9" width="1" height="25.6" fill="#26a69a"/>
<rect x="715" y="238.8" width="3" height="22" fill="#26a69a"/>
<rect x="720" y="224.1" width="1" height="34.5" fill="#ef5350"/>
<rect x="719" y="237.9" width="3" height="1.2" fill="#ef5350"/>
<rect x="725" y="230.6" width="1" height="25.9" fill="#ef5350"/>
<rect x="724" y="237.9" width="3" height="13" fill="#ef5350"/>
<rect x="730" y="240.3" width="1" height="17.2" fill="#ef5350"/>
<rect x="729" y="248.8" width="3" height="2.1" fill="#ef5350"/>
<rect x="734" y="249.4" width="1" height="39.6" fill="#ef5350"/>
<rect x="733" y="250.4" width="3" height="37.6" fill="#ef5350"/>
<rect x="739" y="282.9" width="1" height="19.9" fill="#26a69a"/>
<rect x="738" y="283.3" width="3" height="5.3" fill="#26a69a"/>
<rect x="743" y="271.1" width="1" height="30.1" fill="#ef5350"/>
<rect x="742" y="285" width="3" height="2.4" fill="#ef5350"/>
<rect x="748" y="276.8" width="1" height="15.9" fill="#26a69a"/>
<rect x="747" y="276.8" width="3" height="10.6" fill="#26a69a"/>
<rect x="753" y="269.7" width="1" height="15.7" fill="#ef5350"/>
<rect x="752" y="276.4" width="3" height="8.1" fill="#ef5350"/>
<rect x="757" y="267.1" width="1" height="47.3" fill="#ef5350"/>
<rect x="756" y="283.9" width="3" height="15.7" fill="#ef5350"/>
<rect x="762" y="258.2" width="1" height="42.6" fill="#26a69a"/>
<rect x="761" y="283.3" width="3" height="16.9" fill="#26a69a"/>
<rect x="767" y="274.4" width="1" height="40" fill="#ef5350"/>
<rect x="766" y="282.9" width="3" height="19.9" fill="#ef5350"/>
<rect x="771" y="282.5" width="1" height="35.9" fill="#26a69a"/>
<rect x="770" y="299.2" width="3" height="4" fill="#26a69a"/>
<rect x="776" y="299.6" width="1" height="27.6" fill="#ef5350"/>
<rect x="775" y="300.2" width="3" height="10.1" fill="#ef5350"/>
<rect x="781" y="296.7" width="1" height="22.3" fill="#26a69a"/>
<rect x="780" y="302.8" width="3" height="8.1" fill="#26a69a"/>
<rect x="786" y="280.9" width="1" height="46.3" fill="#ef5350"/>
<rect x="785" y="302.8" width="3" height="14.2" fill="#ef5350"/>
<rect x="790" y="287.5" width="1" height="47.7" fill="#26a69a"/>
<rect x="789" y="290.2" width="3" height="27.8" fill="#26a69a"/>
<rect x="794" y="276" width="1" height="58.2" fill="#ef5350"/>
<rect x="793" y="290.2" width="3" height="43.4" fill="#ef5350"/>
<rect x="799" y="330.2" width="1" height="34.5" fill="#ef5350"/>
<rect x="798" y="332.8" width="3" height="23.2" fill="#ef5350"/>
<rect x="804" y="344.4" width="1" height="20.3" fill="#26a69a"/>
<rect x="803" y="349" width="3" height="7" fill="#26a69a"/>
<rect x="808" y="334.8" width="1" height="16.3" fill="#26a69a"/>
<rect x="807" y="340.3" width="3" height="10.2" fill="#26a69a"/>
<rect x="813" y="331.2" width="1" height="23.9" fill="#26a69a"/>
<rect x="812" y="336.9" width="3" height="4.8" fill="#26a69a"/>
<rect x="818" y="328.1" width="1" height="16.3" fill="#26a69a"/>
<rect x="817" y="334.8" width="3" height="2.9" fill="#26a69a"/>
<rect x="823" y="323.5" width="1" height="23.9" fill="#ef5350"/>
<rect x="822" y="335.2" width="3" height="5.7" fill="#ef5350"/>
<rect x="827" y="326.1" width="1" height="49.3" fill="#ef5350"/>
<rect x="826" y="340.3" width="3" height="32.5" fill="#ef5350"/>
<rect x="831" y="359.2" width="1" height="19.1" fill="#26a69a"/>
<rect x="830" y="364.1" width="3" height="8.7" fill="#26a69a"/>
<rect x="836" y="332.8" width="1" height="31.9" fill="#26a69a"/>
<rect x="835" y="339.7" width="3" height="24.4" fill="#26a69a"/>
<rect x="841" y="331.6" width="1" height="28.4" fill="#26a69a"/>
<rect x="840" y="337.7" width="3" height="2" fill="#26a69a"/>
<rect x="845" y="330.8" width="1" height="14.2" fill="#26a69a"/>
<rect x="844" y="337.3" width="3" height="1.6" fill="#26a69a"/>
<rect x="850" y="305.8" width="1" height="39.2" fill="#26a69a"/>
<rect x="849" y="321.4" width="3" height="16.3" fill="#26a69a"/>
<rect x="855" y="313.3" width="1" height="17.5" fill="#26a69a"/>
<rect x="854" y="316" width="3" height="6.7" fill="#26a69a"/>
<rect x="860" y="281.5" width="1" height="42" fill="#26a69a"/>
<rect x="859" y="314.5" width="3" height="4.1" fill="#26a69a"/>
<rect x="864" y="305.2" width="1" height="14.3" fill="#ef5350"/>
<rect x="863" y="314.4" width="3" height="1.4" fill="#ef5350"/>
<rect x="869" y="295.1" width="1" height="24.4" fill="#26a69a"/>
<rect x="868" y="300.2" width="3" height="13.6" fill="#26a69a"/>
<rect x="873" y="292" width="1" height="17.3" fill="#ef5350"/>
<rect x="872" y="300.2" width="3" height="3.4" fill="#ef5350"/>
<rect x="878" y="302.8" width="1" height="24.8" fill="#ef5350"/>
<rect x="877" y="303.2" width="3" height="3.7" fill="#ef5350"/>
<rect x="882" y="297.1" width="1" height="29.5" fill="#ef5350"/>
<rect x="881" y="306.3" width="3" height="17.6" fill="#ef5350"/>
<rect x="887" y="303.2" width="1" height="22.7" fill="#26a69a"/>
<rect x="886" y="306.9" width="3" height="17.6" fill="#26a69a"/>
<rect x="892" y="292" width="1" height="15.7" fill="#26a69a"/>
<rect x="891" y="298.1" width="3" height="8.8" fill="#26a69a"/>
<rect x="896" y="287" width="1" height="17.8" fill="#26a69a"/>
<rect x="895" y="296.7" width="3" height="1" fill="#26a69a"/>
<rect x="901" y="267.1" width="1" height="36.5" fill="#26a69a"/>
<rect x="900" y="276.4" width="3" height="21.1" fill="#26a69a"/>
<rect x="906" y="250" width="1" height="41" fill="#26a69a"/>
<rect x="905" y="250.4" width="3" height="25.4" fill="#26a69a"/>
<rect x="911" y="239.3" width="1" height="24.3" fill="#ef5350"/>
<rect x="910" y="252.1" width="3" height="4" fill="#ef5350"/>
<rect x="915" y="250.9" width="1" height="16.8" fill="#ef5350"/>
<rect x="914" y="252.9" width="3" height="8.7" fill="#ef5350"/>
<rect x="919" y="252.5" width="1" height="20.7" fill="#26a69a"/>
<rect x="918" y="261.6" width="3" height="1" fill="#26a69a"/>
<rect x="924" y="242.7" width="1" height="22" fill="#26a69a"/>
<rect x="923" y="250.4" width="3" height="12.2" fill="#26a69a"/>
<rect x="929" y="246.8" width="1" height="38.2" fill="#ef5350"/>
<rect x="928" y="250.4" width="3" height="32.9" fill="#ef5350"/>
<rect x="934" y="274.8" width="1" height="14.2" fill="#26a69a"/>
<rect x="933" y="281.9" width="3" height="1" fill="#26a69a"/>
<rect x="938" y="272.1" width="1" height="19" fill="#ef5350"/>
<rect x="937" y="279.6" width="3" height="10.1" fill="#ef5350"/>
<rect x="943" y="286.7" width="1" height="21.3" fill="#ef5350"/>
<rect x="942" y="287.7" width="3" height="5.5" fill="#ef5350"/>
<rect x="948" y="263.3" width="1" height="42.7" fill="#26a69a"/>
<rect x="947" y="264.8" width="3" height="28.4" fill="#26a69a"/>
<rect x="952" y="253.8" width="1" height="44" fill="#ef5350"/>
<rect x="951" y="264.8" width="3" height="30.4" fill="#ef5350"/>
<rect x="957" y="291.1" width="1" height="34.1" fill="#ef5350"/>
<rect x="956" y="294.4" width="3" height="29.2" fill="#ef5350"/>
<rect x="961" y="304.5" width="1" height="20.3" fill="#26a69a"/>
<rect x="960" y="307.4" width="3" height="15.8" fill="#26a69a"/>
<rect x="966" y="293.2" width="1" height="20.3" fill="#ef5350"/>
<rect x="965" y="306.6" width="3" height="2.4" fill="#ef5350"/>
<rect x="970" y="308.6" width="1" height="11" fill="#ef5350"/>
<rect x="969" y="309" width="3" height="3" fill="#ef5350"/>
<rect x="975" y="311.4" width="1" height="26.4" fill="#ef5350"/>
<rect x="974" y="312" width="3" height="19.7" fill="#ef5350"/>
<rect x="980" y="322.8" width="1" height="18.7" fill="#26a69a"/>
<rect x="979" y="329.7" width="3" height="2" fill="#26a69a"/>
<rect x="985" y="326.3" width="1" height="33.5" fill="#ef5350"/>
<rect x="984" y="331.7" width="3" height="23" fill="#ef5350"/>
<rect x="989" y="337.4" width="1" height="26" fill="#26a69a"/>
<rect x="988" y="339" width="3" height="16.7" fill="#26a69a"/>
<rect x="994" y="307" width="1" height="36.5" fill="#26a69a"/>
<rect x="993" y="308.6" width="3" height="31.3" fill="#26a69a"/>
<rect x="998" y="287.1" width="1" height="21.9" fill="#26a69a"/>
<rect x="997" y="307" width="3" height="1.6" fill="#26a69a"/>
<rect x="1003" y="299.9" width="1" height="29.4" fill="#ef5350"/>
<rect x="1002" y="306.5" width="3" height="1" fill="#ef5350"/>
<rect x="1007" y="293.8" width="1" height="20.9" fill="#26a69a"/>
<rect x="1006" y="295.2" width="3" height="12.2" fill="#26a69a"/>
<rect x="1012" y="289.1" width="1" height="10.8" fill="#ef5350"/>
<rect x="1011" y="294.6" width="3" height="2.7" fill="#ef5350"/>
<rect x="1017" y="292.6" width="1" height="63.5" fill="#ef5350"/>
<rect x="1016" y="297.9" width="3" height="56.8" fill="#ef5350"/>
<rect x="1021" y="348" width="1" height="27.4" fill="#ef5350"/>
<rect x="1020" y="354.7" width="3" height="8.1" fill="#ef5350"/>
<rect x="1026" y="361.2" width="1" height="53.8" fill="#ef5350"/>
<rect x="1025" y="362.8" width="3" height="45.1" fill="#ef5350"/>
<rect x="1031" y="394.1" width="1" height="21.5" fill="#ef5350"/>
<rect x="1030" y="409.9" width="3" height="5.1" fill="#ef5350"/>
<rect x="1035" y="400.2" width="1" height="24.3" fill="#ef5350"/>
<rect x="1034" y="415" width="3" height="4" fill="#ef5350"/>
<rect x="1040" y="386.6" width="1" height="36.5" fill="#26a69a"/>
<rect x="1039" y="390.6" width="3" height="29.4" fill="#26a69a"/>
<rect x="1045" y="381.5" width="1" height="24.3" fill="#ef5350"/>
<rect x="1044" y="390.6" width="3" height="14.8" fill="#ef5350"/>
<rect x="1049" y="387.2" width="1" height="33.9" fill="#26a69a"/>
<rect x="1048" y="400.8" width="3" height="4.6" fill="#26a69a"/>
<rect x="1054" y="391.6" width="1" height="23.4" fill="#ef5350"/>
<rect x="1053" y="399.3" width="3" height="2.5" fill="#ef5350"/>
<rect x="1058" y="370.3" width="1" height="36.6" fill="#26a69a"/>
<rect x="1057" y="373.8" width="3" height="27.6" fill="#26a69a"/>
<rect x="1063" y="368.9" width="1" height="18.3" fill="#ef5350"/>
<rect x="1062" y="374.4" width="3" height="3.4" fill="#ef5350"/>
<rect x="1068" y="356.7" width="1" height="29.9" fill="#26a69a"/>
<rect x="1067" y="362.8" width="3" height="15" fill="#26a69a"/>
<rect x="1073" y="352" width="1" height="37.6" fill="#ef5350"/>
<rect x="1072" y="362.8" width="3" height="17.1" fill="#ef5350"/>
<rect x="1077" y="359.6" width="1" height="21.9" fill="#26a69a"/>
<rect x="1076" y="363.6" width="3" height="16.9" fill="#26a69a"/>
<rect x="1082" y="358.1" width="1" height="36.6" fill="#ef5350"/>
<rect x="1081" y="364.2" width="3" height="29.5" fill="#ef5350"/>
<rect x="1086" y="360.5" width="1" height="41.2" fill="#26a69a"/>
<rect x="1085" y="368.5" width="3" height="25.6" fill="#26a69a"/>
<rect x="1091" y="360.9" width="1" height="22.8" fill="#26a69a"/>
<rect x="1090" y="365.1" width="3" height="5.3" fill="#26a69a"/>
<rect x="1095" y="319.6" width="1" height="45.1" fill="#26a69a"/>
<rect x="1094" y="344.8" width="3" height="19.5" fill="#26a69a"/>
<rect x="1100" y="330.2" width="1" height="17.5" fill="#26a69a"/>
<rect x="1099" y="341.6" width="3" height="4.6" fill="#26a69a"/>
<rect x="1105" y="332.1" width="1" height="19.7" fill="#ef5350"/>
<rect x="1104" y="341.6" width="3" height="8.9" fill="#ef5350"/>
<rect x="1109" y="346.7" width="1" height="12" fill="#ef5350"/>
<rect x="1108" y="348" width="3" height="3.8" fill="#ef5350"/>
<rect x="1114" y="333.5" width="1" height="30.3" fill="#26a69a"/>
<rect x="1113" y="334" width="3" height="17.8" fill="#26a69a"/>
<rect x="1119" y="330.2" width="1" height="16" fill="#ef5350"/>
<rect x="1118" y="335.4" width="3" height="6.2" fill="#ef5350"/>
<rect x="1124" y="322.1" width="1" height="20.8" fill="#26a69a"/>
<rect x="1123" y="331" width="3" height="9.1" fill="#26a69a"/>
<rect x="1128" y="312.6" width="1" height="29.4" fill="#26a69a"/>
<rect x="1127" y="317" width="3" height="14.6" fill="#26a69a"/>
<rect x="1132" y="282.3" width="1" height="35.4" fill="#26a69a"/>
<rect x="1131" y="283.6" width="3" height="33.8" fill="#26a69a"/>
<rect x="1137" y="277.6" width="1" height="20.4" fill="#ef5350"/>
<rect x="1136" y="283.6" width="3" height="8.2" fill="#ef5350"/>
<rect x="1142" y="286.1" width="1" height="21.4" fill="#26a69a"/>
<rect x="1141" y="291.2" width="3" height="1.2" fill="#26a69a"/>
<rect x="1147" y="282.9" width="1" height="14" fill="#ef5350"/>
<rect x="1146" y="293.1" width="3" height="3" fill="#ef5350"/>
<rect x="1151" y="288" width="1" height="16.1" fill="#ef5350"/>
<rect x="1150" y="296.1" width="3" height="2.7" fill="#ef5350"/>
<rect x="1156" y="293.7" width="1" height="23.3" fill="#ef5350"/>
<rect x="1155" y="298" width="3" height="16" fill="#ef5350"/>
<rect x="1161" y="294.6" width="1" height="26.5" fill="#ef5350"/>
<rect x="1160" y="313.2" width="3" height="5.7" fill="#ef5350"/>
<rect x="1165" y="296.5" width="1" height="25.6" fill="#26a69a"/>
<rect x="1164" y="303.2" width="3" height="15.7" fill="#26a69a"/>
<rect x="1170" y="290.8" width="1" height="14.2" fill="#26a69a"/>
<rect x="1169" y="298" width="3" height="3.8" fill="#26a69a"/>
<rect x="1174" y="280.4" width="1" height="17.6" fill="#26a69a"/>
<rect x="1173" y="296.5" width="3" height="1" fill="#26a69a"/>
<rect x="1179" y="295.8" width="1" height="2.2" fill="#ef5350"/>
<rect x="1178" y="296.2" width="3" height="1.8" fill="#ef5350"/>
</g>
<g font-family='"Liberation Sans", Arial, sans-serif'>
<text x="107.4" y="71" font-size="13.5" fill="#ffffff" font-weight="bold" textLength="70.8" lengthAdjust="spacingAndGlyphs">2023 highs</text>
<text x="630.8" y="142.9" font-size="13.5" fill="#ffffff" font-weight="bold" textLength="102.8" lengthAdjust="spacingAndGlyphs">December 2023</text>
<text x="366.9" y="523.8" font-size="13.5" fill="#ffffff" font-weight="bold" textLength="65.4" lengthAdjust="spacingAndGlyphs">2023 lows</text>
<text x="1261.1" y="75.2" font-size="10.5" fill="#ffffff" textLength="85.1" lengthAdjust="spacingAndGlyphs" stroke="#ffffff" stroke-width="0.2">100.00% (1.12806)</text>
<text x="1260.8" y="285.2" font-size="10.5" fill="#ffffff" textLength="79.8" lengthAdjust="spacingAndGlyphs" stroke="#ffffff" stroke-width="0.2">50.00% (1.08653)</text>
<text x="1260.5" y="495.8" font-size="10.5" fill="#ffffff" textLength="74.9" lengthAdjust="spacingAndGlyphs" stroke="#ffffff" stroke-width="0.2">0.00% (1.04499)</text>
<text x="1375" y="76.1" font-size="10.2" fill="#b8bbc3" textLength="36.2" lengthAdjust="spacingAndGlyphs">1.13000</text>
<text x="1375" y="126.8" font-size="10.2" fill="#b8bbc3" textLength="36.2" lengthAdjust="spacingAndGlyphs">1.12000</text>
<text x="1375" y="177.5" font-size="10.2" fill="#b8bbc3" textLength="36.2" lengthAdjust="spacingAndGlyphs">1.11000</text>
<text x="1375" y="228.2" font-size="10.2" fill="#b8bbc3" textLength="36.2" lengthAdjust="spacingAndGlyphs">1.10000</text>
<text x="1375" y="278.9" font-size="10.2" fill="#b8bbc3" textLength="36.2" lengthAdjust="spacingAndGlyphs">1.09000</text>
<text x="1375" y="329.6" font-size="10.2" fill="#b8bbc3" textLength="36.2" lengthAdjust="spacingAndGlyphs">1.08000</text>
<text x="1375" y="380.3" font-size="10.2" fill="#b8bbc3" textLength="36.2" lengthAdjust="spacingAndGlyphs">1.07000</text>
<text x="1375" y="431" font-size="10.2" fill="#b8bbc3" textLength="36.2" lengthAdjust="spacingAndGlyphs">1.06000</text>
<text x="1375" y="481.7" font-size="10.2" fill="#b8bbc3" textLength="36.2" lengthAdjust="spacingAndGlyphs">1.05000</text>
<text x="1375" y="532.4" font-size="10.2" fill="#b8bbc3" textLength="36.2" lengthAdjust="spacingAndGlyphs">1.04000</text>
<text x="1375" y="583.1" font-size="10.2" fill="#b8bbc3" textLength="36.2" lengthAdjust="spacingAndGlyphs">1.03000</text>
<path d="M1367,290 H1415 Q1417,290 1417,292 V303.8 Q1417,305.8 1415,305.8 H1367 Z" fill="#ef5350"/>
<text x="1375" y="302" font-size="10.6" fill="#ffffff" textLength="35.5" lengthAdjust="spacingAndGlyphs" stroke="#ffffff" stroke-width="0.25">1.08551</text>
<text x="1374.5" y="622.9" font-size="10.2" fill="#b8bbc3" textLength="25.7" lengthAdjust="spacingAndGlyphs">60.00</text>
<text x="1374.5" y="654.7" font-size="10.2" fill="#b8bbc3" textLength="25.7" lengthAdjust="spacingAndGlyphs">40.00</text>
<text x="81.6" y="700" font-size="10.8" fill="#b8bbc3" text-anchor="middle">Jul</text>
<text x="178.7" y="700" font-size="10.8" fill="#b8bbc3" text-anchor="middle">Aug</text>
<text x="285.2" y="700" font-size="10.8" fill="#b8bbc3" text-anchor="middle">Sep</text>
<text x="382.6" y="700" font-size="10.8" fill="#b8bbc3" text-anchor="middle">Oct</text>
<text x="484.2" y="700" font-size="10.8" fill="#b8bbc3" text-anchor="middle">Nov</text>
<text x="586.6" y="700" font-size="10.8" fill="#b8bbc3" text-anchor="middle">Dec</text>
<text x="683.8" y="700" font-size="10.8" fill="#b8bbc3" text-anchor="middle">2024</text>
<text x="789.7" y="700" font-size="10.8" fill="#b8bbc3" text-anchor="middle">Feb</text>
<text x="887.1" y="700" font-size="10.8" fill="#b8bbc3" text-anchor="middle">Mar</text>
<text x="984.6" y="700" font-size="10.8" fill="#b8bbc3" text-anchor="middle">Apr</text>
<text x="1086.6" y="700" font-size="10.8" fill="#b8bbc3" text-anchor="middle">May</text>
<text x="1193.4" y="700" font-size="10.8" fill="#b8bbc3" text-anchor="middle">Jun</text>
<text x="1286.3" y="700" font-size="10.8" fill="#b8bbc3" text-anchor="middle">Jul</text>
<text x="8.8" y="16.6" font-size="10" fill="#d1d4dc" textLength="330.7" lengthAdjust="spacingAndGlyphs" stroke="#d1d4dc" stroke-width="0.3">dacolmanfx published on TradingView.com, May 28, 2024 18:32 UTC-4</text>
<text x="15.9" y="40.6" font-size="10" fill="#b8bbc3" textLength="122.7" lengthAdjust="spacingAndGlyphs">Euro / U.S. Dollar, 1D, ICE</text>
<text x="145.5" y="40.6" font-size="10" fill="#b8bbc3">O</text>
<text x="196.6" y="40.6" font-size="10" fill="#b8bbc3">H</text>
<text x="246.9" y="40.6" font-size="10" fill="#b8bbc3">L</text>
<text x="295.8" y="40.6" font-size="10" fill="#b8bbc3">C</text>
<text x="154" y="40.6" font-size="10" fill="#ef5350" textLength="35.8" lengthAdjust="spacingAndGlyphs">1.08585</text>
<text x="204" y="40.6" font-size="10" fill="#ef5350" textLength="35.9" lengthAdjust="spacingAndGlyphs">1.08593</text>
<text x="253" y="40.6" font-size="10" fill="#ef5350" textLength="35.3" lengthAdjust="spacingAndGlyphs">1.08551</text>
<text x="302.8" y="40.6" font-size="10" fill="#ef5350" textLength="35" lengthAdjust="spacingAndGlyphs">1.08551</text>
<text x="345.7" y="40.6" font-size="10" fill="#ef5350" textLength="85.7" lengthAdjust="spacingAndGlyphs">−0.00037 (−0.03%)</text>
<g fill="#d1d4dc"><path d="M9,718.3 H15.7 V727 H11.9 V722.1 H9 Z"/><circle cx="18.5" cy="720.2" r="1.3"/><path d="M21.3,718.3 H26 L23.4,727 H18.8 Z"/></g>
<text x="29.4" y="728" font-size="12" fill="#d1d4dc" textLength="61.9" lengthAdjust="spacingAndGlyphs" stroke="#d1d4dc" stroke-width="0.3">TradingView</text>
</g>
<g transform="translate(1182,697) skewX(-12)"><text x="1.5" y="1.5" font-family='"Noto Sans CJK SC", "WenQuanYi Zen Hei", sans-serif' font-weight="900" font-size="58" textLength="240" lengthAdjust="spacingAndGlyphs" fill="#07090e" fill-opacity="0.55">海马财经</text><text x="0" y="0" font-family='"Noto Sans CJK SC", "WenQuanYi Zen Hei", sans-serif' font-weight="900" font-size="58" textLength="240" lengthAdjust="spacingAndGlyphs" fill="#9b9ea6" fill-opacity="0.9">海马财经</text></g>
<g font-family='"Liberation Sans", Arial, sans-serif' fill="#d8dae0" fill-opacity="0.55">
<text x="1193.4" y="700" font-size="10.8" fill="#d8dae0" text-anchor="middle">Jun</text>
<text x="1286.3" y="700" font-size="10.8" fill="#d8dae0" text-anchor="middle">Jul</text>
<text x="1374.5" y="654.7" font-size="10.2" fill="#d8dae0" textLength="25.7" lengthAdjust="spacingAndGlyphs">40.00</text>
</g>
<text x="1194.5" y="733" font-family='"DejaVu Sans", sans-serif' font-weight="bold" font-style="italic" font-size="28" fill="#1e44a2" textLength="221" lengthAdjust="spacing">zzrt01.cn</text></svg>
</body></html>
